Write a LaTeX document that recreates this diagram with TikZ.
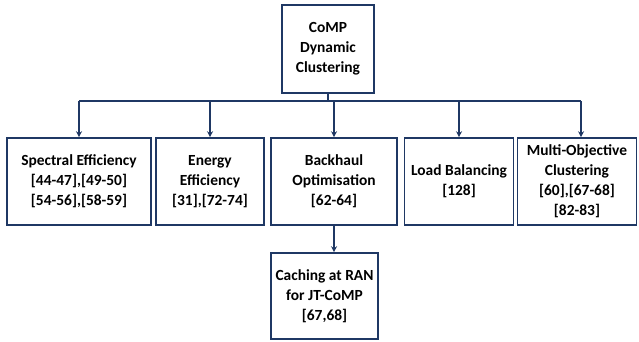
\documentclass[tikz,border=0pt]{standalone}
\usepackage{fontspec}
\setmainfont{Carlito}
\usetikzlibrary{arrows.meta}
\definecolor{navy}{HTML}{1F3864}
\tikzset{
  box/.style={draw=navy, line width=1.6pt, fill=white, align=center, font=\bfseries\fontsize{15.5}{20}\selectfont, inner sep=0pt},
  conn/.style={draw=navy, line width=1.3pt},
  arr/.style={conn, -{Stealth[length=6pt,width=6pt]}}
}
\begin{document}
\begin{tikzpicture}[x=1bp,y=-1bp]
\useasboundingbox (0,0) rectangle (639,341);
\node[box, minimum width=92bp, minimum height=88bp] (top) at (328,49) {CoMP\\Dynamic\\Clustering};
\node[box, minimum width=144bp, minimum height=87bp] (se) at (79,181.5) {Spectral Efficiency\\{}[44-47],[49-50]\\{}[54-56],[58-59]};
\node[box, minimum width=108bp, minimum height=87bp] (ee) at (210,181.5) {Energy\\Efficiency\\{}[31],[72-74]};
\node[box, minimum width=126bp, minimum height=87bp] (bh) at (334,181.5) {Backhaul\\Optimisation\\{}[62-64]};
\node[box, minimum width=109bp, minimum height=87bp] (lb) at (459,181.5) {Load Balancing\\{}[128]};
\node[box, minimum width=119bp, minimum height=87bp] (mo) at (577,181.5) {Multi-Objective\\Clustering\\{}[60],[67-68]\\{}[82-83]};
\node[box, minimum width=107bp, minimum height=86bp] (ca) at (324.5,296) {Caching at RAN\\for JT-CoMP\\{}[67,68]};
\coordinate (bus) at (328,101);
\coordinate (busL) at (79,101);
\coordinate (busR) at (581,101);
\draw[conn] (top.south) -- (bus);
\draw[conn] (busL) -- (busR);
\draw[arr] (busL) -- (se.north);
\draw[arr] (ee.north |- bus) -- (ee.north);
\draw[arr] (bh.north |- bus) -- (bh.north);
\draw[arr] (lb.north |- bus) -- (lb.north);
\draw[arr] (busR) -- (busR |- mo.north);
\draw[arr] (bh.south) -- (bh.south |- ca.north);
\end{tikzpicture}
\end{document}
